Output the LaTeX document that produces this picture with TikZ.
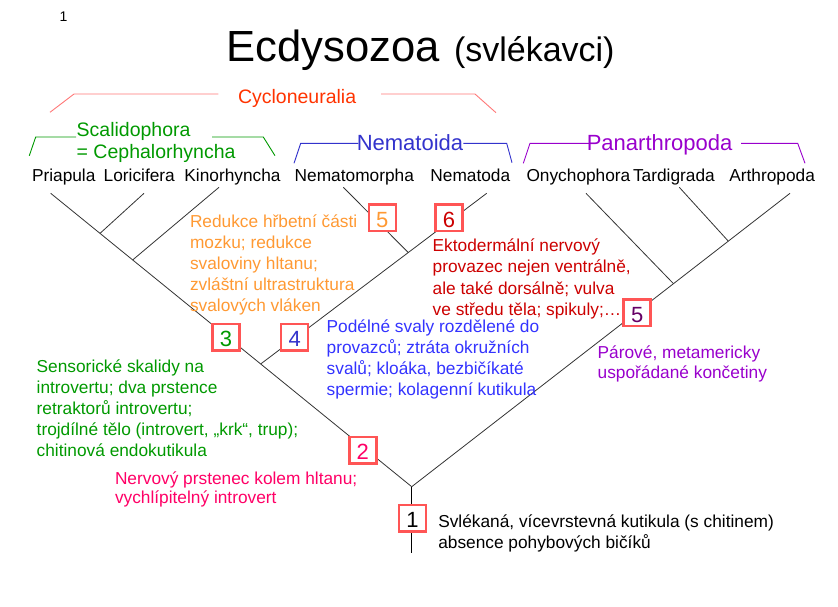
\documentclass[tikz,border=0pt]{standalone}
\usepackage{fontspec}
\setmainfont{Liberation Sans}
\usetikzlibrary{calc}
\definecolor{cyc}{HTML}{FF3300}
\definecolor{cycline}{HTML}{FF7777}
\definecolor{scal}{HTML}{009900}
\definecolor{nema}{HTML}{3333CC}
\definecolor{pan}{HTML}{9900CC}
\definecolor{orng}{HTML}{FF9933}
\definecolor{dred}{HTML}{CC0000}
\definecolor{blu}{HTML}{3333FF}
\definecolor{pnk}{HTML}{FF0066}
\definecolor{boxred}{HTML}{FF5555}
\definecolor{dpurp}{HTML}{660066}
\definecolor{treeline}{HTML}{333333}
\newcommand{\mlines}[1]{\begin{tabular}[t]{@{}l@{}}#1\end{tabular}}
\begin{document}
\begin{tikzpicture}[x=1pt,y=-1pt,
  txt/.style={anchor=base west,inner sep=0pt,outer sep=0pt},
  taxon/.style={txt,font=\fontsize{17.3}{21}\selectfont},
  grp/.style={txt,font=\fontsize{22}{24}\selectfont},
  note/.style={txt,font=\fontsize{17.3}{21.2}\selectfont},
  numbox/.style={draw=boxred,line width=2.5pt,fill=white,minimum width=27pt,
    minimum height=26.5pt,inner sep=0pt,text height=19pt,text depth=0pt,
    font=\fontsize{22}{22}\selectfont},
  branch/.style={draw=treeline,line width=0.8pt},
  brk/.style={line width=0.9pt}]
\useasboundingbox (0,0) rectangle (838,606);

% ---------- titles ----------
\node[txt,font=\fontsize{14}{14}\selectfont] (page) at (59.5,21.7) {1};
\node[txt,font=\fontsize{43.6}{44}\selectfont] (title) at (226.5,61) {Ecdysozoa};
\node[txt,font=\fontsize{34}{34}\selectfont] (sub) at (454,61) {(svlékavci)};

% ---------- group labels ----------
\node[txt,font=\fontsize{19.5}{22}\selectfont,text=cyc] (cyc) at (238,103.3) {Cycloneuralia};
\node[txt,font=\fontsize{19.5}{22.3}\selectfont,text=scal] (scal) at (76.7,136)
  {\mlines{Scalidophora\\= Cephalorhyncha}};
\node[grp,text=nema] (nema) at (356.8,150) {Nematoida};
\node[grp,text=pan] (pan) at (586.8,150) {Panarthropoda};

% bracket coordinates
\coordinate (cA) at (50,112.3);   \coordinate (cB) at (74,94);    \coordinate (cC) at (218.3,94);
\coordinate (cD) at (381,94);     \coordinate (cE) at (475,94);   \coordinate (cF) at (496,112.7);
\coordinate (sA) at (29.3,155.7); \coordinate (sB) at (35.7,137); \coordinate (sC) at (76,137);
\coordinate (sD) at (212,137);    \coordinate (sE) at (263.3,137);\coordinate (sF) at (275,155.7);
\coordinate (nA) at (294,163.3);  \coordinate (nB) at (300.7,143.3); \coordinate (nC) at (358.3,143.3);
\coordinate (nD) at (463.3,143.3);\coordinate (nE) at (506.7,143.3); \coordinate (nF) at (512,162.7);
\coordinate (pA) at (523.3,163.3);\coordinate (pB) at (530,143.3); \coordinate (pC) at (590,143.3);
\coordinate (pD) at (741,143.3);  \coordinate (pE) at (797.7,143.3); \coordinate (pF) at (805,163.3);
\draw[brk,cycline] (cA) -- (cB) -- (cC);
\draw[brk,cycline] (cD) -- (cE) -- (cF);
\draw[brk,scal] (sA) -- (sB) -- (sC);
\draw[brk,scal] (sD) -- (sE) -- (sF);
\draw[brk,nema] (nA) -- (nB) -- (nC);
\draw[brk,nema] (nD) -- (nE) -- (nF);
\draw[brk,pan] (pA) -- (pB) -- (pC);
\draw[brk,pan] (pD) -- (pE) -- (pF);

% ---------- taxa ----------
\node[taxon] (tPri) at (32,181) {Priapula};
\node[taxon] (tLor) at (103.7,181) {Loricifera};
\node[taxon] (tKin) at (184.4,181) {Kinorhyncha};
\node[taxon] (tNmm) at (294.7,181) {Nematomorpha};
\node[taxon] (tNmd) at (430.4,181) {Nematoda};
\node[taxon] (tOny) at (526.5,181) {Onychophora};
\node[taxon] (tTar) at (633,181) {Tardigrada};
\node[taxon] (tArt) at (729.3,181) {Arthropoda};

% ---------- tree ----------
\coordinate (root) at (411.7,486.7);
\coordinate (base) at (411.7,552.7);
\coordinate (xPri) at (50.7,193.3);
\coordinate (xLor) at (144,193.3);
\coordinate (xKin) at (219,187.3);
\coordinate (xNmm) at (343.3,187.3);
\coordinate (xNmd) at (486.7,193.3);
\coordinate (xOny) at (586,193.3);
\coordinate (xTar) at (679.3,187.3);
\coordinate (xArt) at (790,193.3);
\coordinate (jLor) at ($(xPri)!0.1366!(root)$);
\coordinate (jKin) at ($(xPri)!0.2271!(root)$);
\coordinate (jNem) at ($(xPri)!0.5817!(root)$);
\coordinate (jNmm) at ($(jNem)!0.653!(xNmd)$);
\coordinate (jOny) at ($(root)!0.692!(xArt)$);
\coordinate (jTar) at ($(root)!0.8369!(xArt)$);
\draw[branch] (xPri) -- (root);
\draw[branch] (xLor) -- (jLor);
\draw[branch] (xKin) -- (jKin);
\draw[branch] (jNem) -- (xNmd);
\draw[branch] (xNmm) -- (jNmm);
\draw[branch] (root) -- (xArt);
\draw[branch] (xOny) -- (jOny);
\draw[branch] (xTar) -- (jTar);
\draw[line width=0.9pt,black] (root) -- (base);

% ---------- annotations ----------
\node[note,text=orng] (nO) at (190,227)
  {\mlines{Redukce hřbetní části\\mozku; redukce\\svaloviny hltanu;\\zvláštní ultrastruktura\\svalových vláken}};
\node[note,text=dred] (nR) at (432.7,251.7)
  {\mlines{Ektodermální nervový\\provazec nejen ventrálně,\\ale také dorsálně; vulva\\ve středu těla; spikuly;…}};
\node[note,font=\fontsize{17.3}{20.8}\selectfont,text=blu] (nB) at (326.7,332.7)
  {\mlines{Podélné svaly rozdělené do\\provazců; ztráta okružních\\svalů; kloáka, bezbičíkaté\\spermie; kolagenní kutikula}};
\node[note,font=\fontsize{17.3}{20.2}\selectfont,text=pan] (nP) at (597.7,358.3)
  {\mlines{Párové, metamericky\\uspořádané končetiny}};
\node[note,font=\fontsize{17.3}{21}\selectfont,text=scal] (nG) at (36.7,372.7)
  {\mlines{Sensorické skalidy na\\introvertu; dva prstence\\retraktorů introvertu;\\trojdílné tělo (introvert, „krk“, trup);\\chitinová endokutikula}};
\node[note,font=\fontsize{17.3}{19.3}\selectfont,text=pnk] (nK) at (115,484.3)
  {\mlines{Nervový prstenec kolem hltanu;\\vychlípitelný introvert}};
\node[note,font=\fontsize{17.3}{21}\selectfont,text=black] (nBl) at (438.3,527.3)
  {\mlines{Svlékaná, vícevrstevná kutikula (s chitinem)\\absence pohybových bičíků}};

% ---------- numbered boxes ----------
\node[numbox,text=scal] (b3) at (226,337) {3};
\node[numbox,text=nema] (b4) at (294.7,337) {4};
\node[numbox,text=orng] (b5o) at (382.3,217.5) {5};
\node[numbox,text=dred] (b6) at (449,217.5) {6};
\node[numbox,text=dpurp] (b5p) at (637.2,312.5) {5};
\node[numbox,text=pnk] (b2) at (362.8,450) {2};
\node[numbox,text=black] (b1) at (412.5,518.3) {1};
\end{tikzpicture}
\end{document}
